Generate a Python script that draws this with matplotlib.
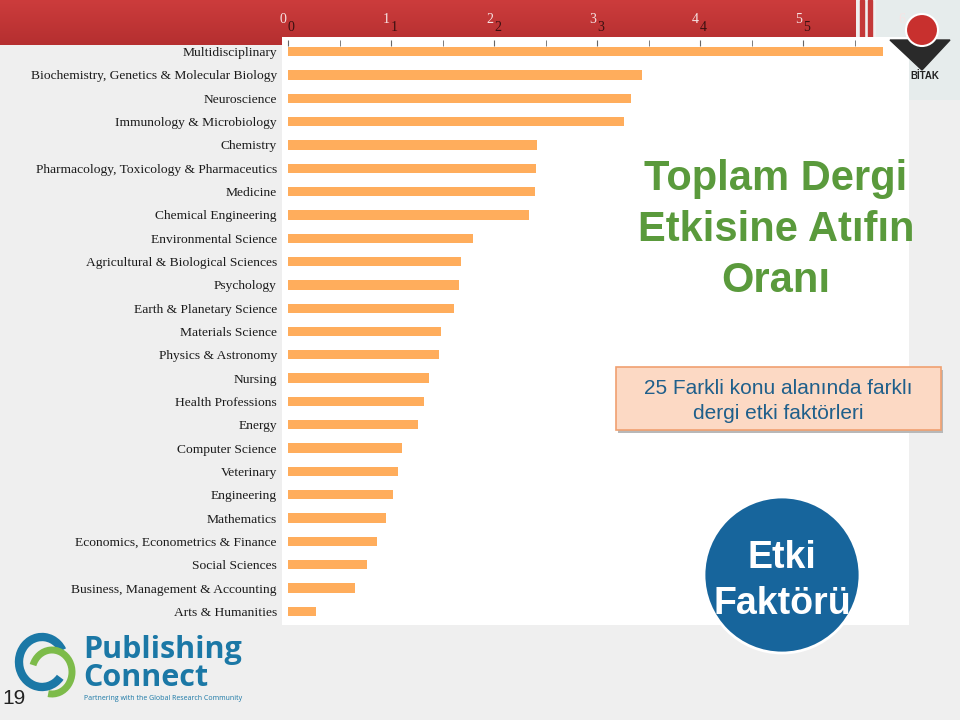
import numpy as np
import matplotlib.pyplot as plt
from matplotlib.patches import Rectangle, Circle, FancyBboxPatch, Polygon, Arc
import matplotlib.transforms as mtransforms

# subject areas and their ratio values
areas = ["Multidisciplinary", "Biochemistry, Genetics & Molecular Biology", "Neuroscience",
         "Immunology & Microbiology", "Chemistry", "Pharmacology, Toxicology & Pharmaceutics",
         "Medicine", "Chemical Engineering", "Environmental Science",
         "Agricultural & Biological Sciences", "Psychology", "Earth & Planetary Science",
         "Materials Science", "Physics & Astronomy", "Nursing", "Health Professions", "Energy",
         "Computer Science", "Veterinary", "Engineering", "Mathematics",
         "Economics, Econometrics & Finance", "Social Sciences",
         "Business, Management & Accounting", "Arts & Humanities"]
values = [5.78, 3.44, 3.33, 3.26, 2.42, 2.41, 2.40, 2.34, 1.80, 1.68, 1.66, 1.61,
          1.49, 1.47, 1.37, 1.32, 1.26, 1.11, 1.07, 1.02, 0.95, 0.86, 0.77, 0.65, 0.27]
xticks = [0, 1, 2, 3, 4, 5, 6]

W, H = 960, 720
fig = plt.figure(figsize=(9.6, 7.2), dpi=100)
fig.patch.set_facecolor("#efefef")

def px(x, y):
    return x / W, 1 - y / H

# red header band (simple vertical gradient)
band = fig.add_axes([0, 1 - 45 / H, 856 / W, 45 / H])
band.imshow(np.linspace(0, 1, 50).reshape(-1, 1), aspect="auto", cmap=plt.matplotlib.colors.LinearSegmentedColormap.from_list("r", ["#cc3c3c", "#b52f30"]), extent=[0, 1, 0, 1])
band.axis("off")
for x0 in [860, 868]:
    fig.patches.append(Rectangle((x0 / W, 1 - 45 / H), 4 / W, 45 / H, transform=fig.transFigure,
                                 color="#c43838", zorder=1))
# pale area behind the logo
fig.patches.append(Rectangle(px(876, 100), 84 / W, 100 / H, transform=fig.transFigure,
                             facecolor="#e6ecec", edgecolor="none", zorder=1))

# white chart panel
fig.patches.append(Rectangle(px(282, 625), 627 / W, 588 / H, transform=fig.transFigure,
                             facecolor="white", edgecolor="none", zorder=2))

ax = fig.add_axes([288 / W, 1 - 623 / H, 618 / W, 583 / H])
ax.set_zorder(3)
ax.patch.set_alpha(0)
y = np.arange(len(areas))
ax.barh(y, values, height=0.4, color="#ffad5c")
ax.set_xlim(0, 6)
ax.set_ylim(len(areas) - 0.5, -0.5)
ax.set_yticks(y)
ax.set_yticklabels(areas, family="Liberation Serif", fontsize=9.7, color="#1a1a1a")
ax.tick_params(axis="y", length=0, pad=8)
ax.xaxis.tick_top()
ax.set_xticks(xticks)
ax.set_xticks(np.arange(0.5, 6, 1), minor=True)
ax.set_xticklabels([str(t) for t in xticks], family="Liberation Serif", fontsize=10,
                   color="#3a1010")
ax.tick_params(axis="x", which="both", direction="in", length=4, color="#666666", pad=4)
for lab in ax.get_xticklabels():
    lab.set_horizontalalignment("left")
# white shadow copies of the tick labels
shadow = mtransforms.offset_copy(ax.get_xaxis_transform(), fig=fig, x=-8, y=14, units="dots")
for t in xticks:
    ax.text(t, 1, str(t), transform=shadow, family="Liberation Serif", fontsize=10,
            color="#f6e4e4", ha="left", va="bottom", clip_on=False)
for s in ax.spines.values():
    s.set_visible(False)

# title text
fig.text(776 / W, 1 - 230 / H, "Toplam Dergi\nEtkisine Atıfın\nOranı", ha="center", va="center",
         fontsize=30, fontweight="bold", color="#5a9a3c", family="Liberation Sans",
         linespacing=1.37, zorder=5)

# note box with a light shadow
fig.patches.append(Rectangle(px(618, 433), 325 / W, 63 / H, transform=fig.transFigure,
                             facecolor="#b8b8b8", edgecolor="none", zorder=4))
box = FancyBboxPatch(px(616, 430), 325 / W, 63 / H, boxstyle="square,pad=0",
                     transform=fig.transFigure, facecolor="#fcd9c4", edgecolor="#f0a070",
                     linewidth=1.2, zorder=4)
fig.patches.append(box)
fig.text(778 / W, 1 - 401 / H, "25 Farkli konu alanında farklı\ndergi etki faktörleri",
         ha="center", va="center", fontsize=15, color="#1f5f8b", family="Liberation Sans",
         linespacing=1.34, zorder=5)

# blue circle
cax = fig.add_axes([0, 0, 1, 1], zorder=6)
cax.set_xlim(0, W)
cax.set_ylim(H, 0)
cax.axis("off")
cax.add_patch(Circle((782, 575), 78, facecolor="#17659c", edgecolor="white", linewidth=2))
cax.text(782, 581, "Etki\nFaktörü", ha="center", va="center", fontsize=27, fontweight="bold",
         color="white", family="Liberation Sans", linespacing=1.39)

# TUBITAK logo, rough
cax.add_patch(Polygon([[890, 40], [950, 40], [922, 70]], closed=True, color="#2a2a2a"))
cax.add_patch(Circle((922, 30), 16, facecolor="#c8302e", edgecolor="white", linewidth=1.5))
cax.text(925, 76, "BİTAK", ha="center", va="center", fontsize=7, fontweight="bold",
         color="#222222", family="Liberation Sans")

# Publishing Connect logo
cax.add_patch(Arc((42, 662), 46, 50, theta1=40, theta2=330, color="#1b78a6", linewidth=6))
cax.add_patch(Arc((52, 672), 40, 44, theta1=200, theta2=100, color="#7dbb4a", linewidth=5))
cax.text(83, 650, "Publishing", ha="left", va="center", fontsize=22, fontweight="bold",
         color="#1b78a6", family="Open Sans")
cax.text(83, 678, "Connect", ha="left", va="center", fontsize=22, fontweight="bold",
         color="#1b78a6", family="Open Sans")
cax.text(84, 699, "Partnering with the Global Research Community", ha="left", va="center",
         fontsize=5, color="#1b78a6", family="Open Sans")
cax.text(2, 698, "19", ha="left", va="center", fontsize=15, color="#222222",
         family="Liberation Sans")

fig.savefig("out.png", dpi=100, facecolor=fig.get_facecolor())
